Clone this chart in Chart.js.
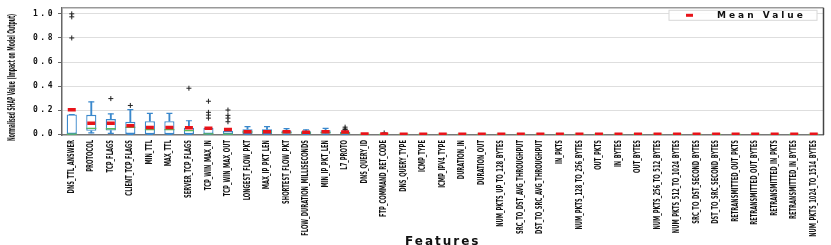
<!DOCTYPE html>
<html>
<head>
<meta charset="utf-8">
<script src="https://cdn.jsdelivr.net/npm/chart.js@4.4.1/dist/chart.umd.min.js"></script>
<style>
html, body { margin: 0; padding: 0; background: #fff; overflow: hidden; }
canvas { display: block; }
</style>
</head>
<body>
<canvas id="shap-chart" width="831" height="249"></canvas>
<script>
// Feature names, in plotted order
const features = [
    'DNS_TTL_ANSWER', 'PROTOCOL', 'TCP_FLAGS', 'CLIENT_TCP_FLAGS', 'MIN_TTL', 'MAX_TTL',
    'SERVER_TCP_FLAGS', 'TCP_WIN_MAX_IN', 'TCP_WIN_MAX_OUT', 'LONGEST_FLOW_PKT', 'MAX_IP_PKT_LEN',
    'SHORTEST_FLOW_PKT', 'FLOW_DURATION_MILLISECONDS', 'MIN_IP_PKT_LEN', 'L7_PROTO', 'DNS_QUERY_ID',
    'FTP_COMMAND_RET_CODE', 'DNS_QUERY_TYPE', 'ICMP_TYPE', 'ICMP_IPV4_TYPE', 'DURATION_IN',
    'DURATION_OUT', 'NUM_PKTS_UP_TO_128_BYTES', 'SRC_TO_DST_AVG_THROUGHPUT', 'DST_TO_SRC_AVG_THROUGHPUT',
    'IN_PKTS', 'NUM_PKTS_128_TO_256_BYTES', 'OUT_PKTS', 'IN_BYTES', 'OUT_BYTES',
    'NUM_PKTS_256_TO_512_BYTES', 'NUM_PKTS_512_TO_1024_BYTES', 'SRC_TO_DST_SECOND_BYTES',
    'DST_TO_SRC_SECOND_BYTES', 'RETRANSMITTED_OUT_PKTS', 'RETRANSMITTED_OUT_BYTES',
    'RETRANSMITTED_IN_PKTS', 'RETRANSMITTED_IN_BYTES', 'NUM_PKTS_1024_TO_1514_BYTES'
];

// Box statistics, zeros for the flat features at the end
const q1Values     = [0, 0.03, 0.032, 0.004, 0.002, 0.002, 0.002, 0, 0, 0.004, 0.004, 0.005, 0.004, 0.005, 0.002, 0, 0,
                      0, 0, 0, 0, 0, 0, 0, 0, 0, 0, 0, 0, 0, 0, 0, 0, 0, 0, 0, 0, 0, 0];
const q3Values     = [0.165, 0.162, 0.127, 0.104, 0.11, 0.11, 0.055, 0.053, 0.03, 0.043, 0.042, 0.032, 0.027, 0.035, 0.022, 0.002, 0.002,
                      0, 0, 0, 0, 0, 0, 0, 0, 0, 0, 0, 0, 0, 0, 0, 0, 0, 0, 0, 0, 0, 0];
const medianValues = [0.003, 0.05, 0.047, 0.058, 0.04, 0.04, 0.032, 0.005, 0.003, 0.02, 0.02, 0.015, 0.012, 0.015, 0.008, 0, 0,
                      0, 0, 0, 0, 0, 0, 0, 0, 0, 0, 0, 0, 0, 0, 0, 0, 0, 0, 0, 0, 0, 0];
const whiskerLow   = [0, 0.012, 0.008, 0, 0, 0, 0, 0, 0, 0, 0, 0, 0, 0, 0, 0, 0,
                      0, 0, 0, 0, 0, 0, 0, 0, 0, 0, 0, 0, 0, 0, 0, 0, 0, 0, 0, 0, 0, 0];
const whiskerHigh  = [0.165, 0.27, 0.17, 0.205, 0.175, 0.175, 0.113, 0.053, 0.03, 0.064, 0.064, 0.048, 0.037, 0.05, 0.03, 0.003, 0.003,
                      0, 0, 0, 0, 0, 0, 0, 0, 0, 0, 0, 0, 0, 0, 0, 0, 0, 0, 0, 0, 0, 0];
const meanValues   = [0.205, 0.093, 0.092, 0.072, 0.058, 0.058, 0.055, 0.05, 0.04, 0.022, 0.022, 0.021, 0.018, 0.021, 0.02, 0.003, 0.004,
                      0.002, 0.002, 0.002, 0.002, 0.002, 0.002, 0.002, 0.002, 0.002, 0.002, 0.002, 0.002, 0.002, 0.002,
                      0.002, 0.002, 0.002, 0.002, 0.002, 0.002, 0.002, 0.002];
// Outliers ("+" fliers) per feature index
const outliers = {
    0: [1.0, 0.975, 0.8],
    2: [0.297],
    3: [0.24],
    6: [0.383],
    7: [0.275, 0.183, 0.16, 0.135],
    8: [0.202, 0.158, 0.135, 0.105],
    14: [0.06, 0.045, 0.04],
    16: [0.012]
};
const yTicks = [0, 0.2, 0.4, 0.6, 0.8, 1.0];

const BLUE = '#3a88cc';
const GREEN = '#5cb85c';
const RED = '#e8141a';
const CONDENSED = "'DejaVu Sans Condensed', sans-serif";

// squeeze text along the vertical direction (the original labels are very narrow)
function squeezeY(ctx, anchorY, factor, shift) {
    ctx.translate(0, anchorY + (shift || 0));
    ctx.scale(1, factor);
    ctx.translate(0, -anchorY);
}

class SpacedLinearScale extends Chart.LinearScale {
    static id = 'spacedLinear';
    static defaults = Chart.LinearScale.defaults;
    drawLabels(chartArea) {
        this.ctx.save();
        this.ctx.letterSpacing = '2.5px';
        super.drawLabels(chartArea);
        this.ctx.restore();
    }
    drawTitle() {
        this.ctx.save();
        squeezeY(this.ctx, (this.top + this.bottom) / 2, 0.5, 6);
        super.drawTitle();
        this.ctx.restore();
    }
}
class SpacedCategoryScale extends Chart.CategoryScale {
    static id = 'spacedCategory';
    static defaults = Chart.CategoryScale.defaults;
    _computeLabelArea() {
        return undefined;
    }
    drawLabels(chartArea) {
        this.ctx.save();
        squeezeY(this.ctx, this.top, 0.72);
        super.drawLabels(chartArea);
        this.ctx.restore();
    }
    drawTitle() {
        this.ctx.save();
        this.ctx.letterSpacing = '2px';
        super.drawTitle();
        this.ctx.restore();
    }
}
Chart.register(SpacedLinearScale, SpacedCategoryScale);

// Build point lists from the arrays
const outlierPoints = [];
Object.keys(outliers).forEach(idx => {
    outliers[idx].forEach(v => outlierPoints.push({ x: features[idx], y: v }));
});
const capPoints = [];
features.forEach((f, i) => {
    capPoints.push({ x: f, y: whiskerLow[i] });
    capPoints.push({ x: f, y: whiskerHigh[i] });
});

// Frame + in-plot legend
const framePlugin = {
    id: 'frame',
    afterDraw(chart) {
        const { ctx, chartArea } = chart;
        ctx.save();
        ctx.lineWidth = 1.5;
        ctx.strokeStyle = '#999';
        ctx.beginPath();
        ctx.moveTo(chartArea.left, chartArea.top);
        ctx.lineTo(chartArea.right, chartArea.top);
        ctx.stroke();
        ctx.strokeStyle = '#444';
        ctx.beginPath();
        ctx.moveTo(chartArea.right, chartArea.top);
        ctx.lineTo(chartArea.right, chartArea.bottom);
        ctx.stroke();

        // legend box
        const right = chartArea.right - 6.5;
        const left = right - 148;
        const top = chartArea.top + 2.5;
        ctx.lineWidth = 1;
        ctx.strokeStyle = '#d8d8d8';
        ctx.fillStyle = 'rgba(255,255,255,0.9)';
        ctx.fillRect(left, top, 148, 10);
        ctx.strokeRect(left, top, 148, 10);
        ctx.strokeStyle = RED;
        ctx.lineWidth = 3;
        ctx.beginPath();
        ctx.moveTo(left + 17, top + 5);
        ctx.lineTo(left + 24, top + 5);
        ctx.stroke();
        ctx.fillStyle = '#111';
        ctx.font = "bold 9px 'DejaVu Sans'";
        ctx.letterSpacing = '3px';
        ctx.textBaseline = 'middle';
        ctx.textAlign = 'left';
        ctx.fillText(chart.data.datasets[0].label, left + 48, top + 5.5);
        ctx.restore();
    }
};

new Chart(document.getElementById('shap-chart'), {
    type: 'bar',
    data: {
        labels: features,
        datasets: [
            {
                type: 'line', label: 'Mean Value', data: meanValues, showLine: false, order: 0,
                pointStyle: 'line', pointRadius: 4, pointBorderWidth: 3.5,
                borderColor: RED, backgroundColor: RED
            },
            {
                type: 'line', label: 'Outliers', data: outlierPoints, showLine: false, order: 1,
                pointStyle: 'cross', pointRadius: 2.5, pointBorderWidth: 1,
                borderColor: '#222', backgroundColor: '#222'
            },
            {
                type: 'line', label: 'Median', data: medianValues, showLine: false, order: 2,
                pointStyle: 'line', pointRadius: 5, pointBorderWidth: 1.3,
                borderColor: GREEN, backgroundColor: GREEN
            },
            {
                type: 'line', label: 'Caps', data: capPoints, showLine: false, order: 3,
                pointStyle: 'line', pointRadius: 3, pointBorderWidth: 1.2,
                borderColor: BLUE, backgroundColor: BLUE
            },
            {
                label: 'Box', data: features.map((f, i) => [q1Values[i], q3Values[i]]), order: 4,
                grouped: false, barPercentage: 0.52, categoryPercentage: 1,
                backgroundColor: '#fff', borderColor: BLUE, borderWidth: 1.3, borderSkipped: false
            },
            {
                label: 'Whisker low', data: features.map((f, i) => [whiskerLow[i], q1Values[i]]), order: 5,
                grouped: false, barThickness: 1.2, backgroundColor: BLUE, borderWidth: 0
            },
            {
                label: 'Whisker high', data: features.map((f, i) => [q3Values[i], whiskerHigh[i]]), order: 5,
                grouped: false, barThickness: 1.2, backgroundColor: BLUE, borderWidth: 0
            }
        ]
    },
    options: {
        responsive: false,
        animation: false,
        devicePixelRatio: 1,
        layout: { padding: { left: 0, right: 7, top: 3, bottom: 0 } },
        plugins: { legend: { display: false }, tooltip: { enabled: false } },
        scales: {
            x: {
                type: 'spacedCategory',
                offset: true,
                grid: { display: false, drawTicks: false },
                border: { display: true, color: '#777', width: 1.5 },
                ticks: {
                    autoSkip: false, maxRotation: 90, minRotation: 90, padding: 7,
                    color: '#111', font: { family: CONDENSED, size: 8, weight: 'bold' }
                },
                title: {
                    display: true, text: 'Features', color: '#111',
                    font: { family: "'DejaVu Sans'", size: 12, weight: 'bold' },
                    padding: { top: 0, bottom: 0 }
                },
                afterFit: (scale) => { scale.height = 114; }
            },
            y: {
                type: 'spacedLinear',
                min: -0.005,
                max: 1.05,
                afterBuildTicks: (scale) => { scale.ticks = yTicks.map(v => ({ value: v })); },
                grid: { color: '#dedede', lineWidth: 1, tickColor: '#666', tickLength: 4 },
                border: { display: true, color: '#666', width: 1.5 },
                ticks: {
                    padding: 3, color: '#111',
                    font: { family: "'DejaVu Sans Mono'", size: 8, weight: 'bold' },
                    callback: (v) => Number(v).toFixed(1)
                },
                title: {
                    display: true, text: 'Normalised SHAP Value (Impact on Model Output)', color: '#111',
                    font: { family: CONDENSED, size: 10, weight: 'bold' },
                    padding: { top: 6.5, bottom: 0 }
                },
                afterFit: (scale) => { scale.width = 62; }
            }
        }
    },
    plugins: [framePlugin]
});
</script>
</body>
</html>
